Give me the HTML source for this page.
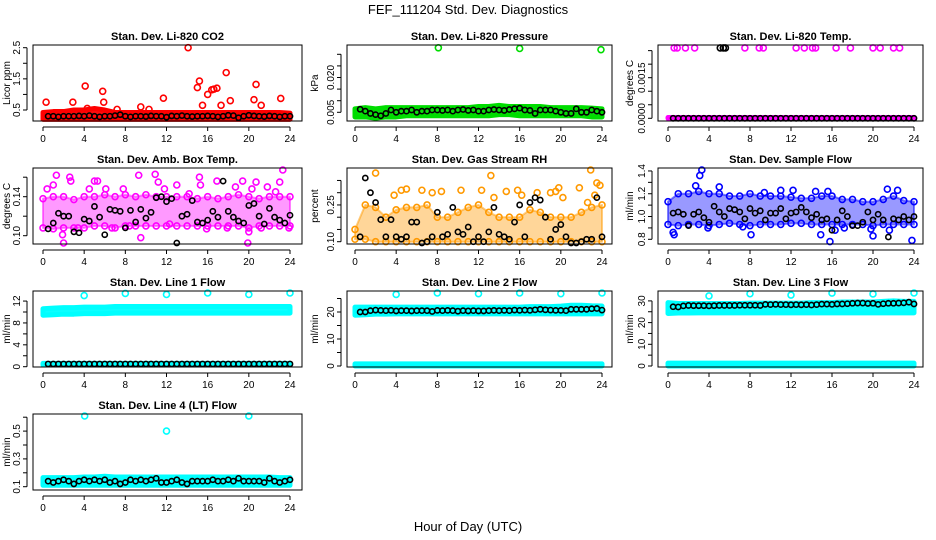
<!DOCTYPE html>
<html><head><meta charset="utf-8"><style>
body{margin:0;background:#fff}
svg{display:block;font-family:"Liberation Sans",sans-serif}
</style></head><body>
<svg id="chart" width="936" height="540" viewBox="0 0 936 540">
<text x="468" y="14" text-anchor="middle" font-size="13">FEF_111204  Std. Dev. Diagnostics</text>
<text x="468" y="531" text-anchor="middle" font-size="13">Hour of Day (UTC)</text>
</svg>
<script>
// ---- data (hourly band lo/hi = 25 values at hours 0..24; black = 48 values at 0.5..24) ----
const xTicks = [0,4,8,12,16,20,24];
const co2BandLo = [0.2,0.2,0.2,0.2,0.2,0.2,0.2,0.2,0.2,0.2,0.2,0.2,0.2,0.2,0.2,0.2,0.2,0.2,0.2,0.2,0.2,0.2,0.2,0.2,0.2];
const co2BandHi = [0.42,0.45,0.45,0.5,0.5,0.55,0.5,0.42,0.42,0.42,0.42,0.42,0.42,0.42,0.42,0.42,0.42,0.42,0.42,0.42,0.42,0.42,0.42,0.42,0.4];
const co2OutX = [0.3,2.9,4.1,5.8,5.9,9.5,11.7,14.1,15.0,15.2,15.5,16.0,16.4,16.6,16.9,17.3,17.8,18.2,20.5,20.7,21.2,23.1,4.3,7.2,10.3];
const co2OutY = [0.75,0.75,1.27,1.1,0.75,0.6,0.88,2.5,1.22,1.43,0.65,1.0,1.15,1.17,1.2,0.65,1.7,0.8,0.83,1.32,0.65,0.87,0.55,0.52,0.52];
const co2Black = [0.3,0.3,0.28,0.3,0.3,0.3,0.31,0.3,0.32,0.3,0.28,0.3,0.3,0.32,0.35,0.3,0.28,0.3,0.3,0.29,0.31,0.3,0.3,0.27,0.31,0.3,0.32,0.3,0.29,0.3,0.3,0.31,0.3,0.28,0.3,0.33,0.32,0.25,0.3,0.33,0.31,0.3,0.29,0.31,0.3,0.28,0.3,0.3];

const presBandLo = [0.003,0.003,0.0025,0.003,0.003,0.0035,0.0035,0.0035,0.0035,0.0035,0.0035,0.0035,0.0035,0.0035,0.004,0.004,0.0035,0.0035,0.0035,0.0035,0.0035,0.0035,0.0035,0.003,0.003];
const presBandHi = [0.0065,0.007,0.0065,0.007,0.007,0.007,0.007,0.007,0.007,0.007,0.007,0.007,0.0075,0.0075,0.008,0.0075,0.0075,0.0075,0.0075,0.007,0.007,0.007,0.007,0.0068,0.0065];
const presOutX = [8.1,16.0,23.9];
const presOutY = [0.0328,0.0325,0.032];
const presBlack = [0.0063,0.0055,0.0045,0.004,0.0035,0.0045,0.006,0.005,0.0055,0.0055,0.006,0.005,0.0055,0.0055,0.006,0.006,0.0058,0.006,0.0055,0.006,0.0062,0.0058,0.006,0.0055,0.0055,0.006,0.0062,0.006,0.0058,0.0062,0.0065,0.0068,0.006,0.0058,0.0045,0.006,0.006,0.006,0.0055,0.005,0.0045,0.0045,0.0065,0.005,0.005,0.006,0.0055,0.005];

const tempBandLo = Array(25).fill(0);
const tempBandHi = [0.00003,0.00003,0.00003,0.00003,0.00003,0.00003,0.00003,0.00003,0.00003,0.00003,0.00003,0.00003,0.00003,0.00003,0.00003,0.00003,0.00003,0.00003,0.00003,0.00003,0.00003,0.00003,0.00003,0.00003,0.00003];
const tempOutX = [0.6,0.9,1.7,2.6,7.5,8.9,9.3,12.5,13.3,14.1,14.4,16.4,17.8,20.0,20.7,22.0,22.6];
const tempOutY = [0.0026,0.0026,0.0026,0.0026,0.0026,0.0026,0.0026,0.0026,0.0026,0.0026,0.0026,0.0026,0.0026,0.0026,0.0026,0.0026,0.0026];
const tempBlackOutX = [5.1,5.4,5.6];
const tempBlackOutY = [0.0026,0.0026,0.0026];
const tempBlack = Array(48).fill(0);

const ambBandLo = [0.108,0.107,0.108,0.108,0.108,0.11,0.11,0.108,0.11,0.11,0.11,0.11,0.11,0.11,0.11,0.11,0.11,0.11,0.11,0.11,0.108,0.11,0.11,0.11,0.11];
const ambBandHi = [0.138,0.14,0.14,0.137,0.14,0.14,0.142,0.14,0.142,0.14,0.142,0.14,0.14,0.14,0.14,0.138,0.14,0.138,0.14,0.142,0.14,0.138,0.14,0.14,0.14];
const ambOutX = [0.4,1.0,1.3,1.9,2.6,2.7,3.4,4.5,5.0,5.3,6.1,6.7,7.8,9.3,9.5,10.9,11.2,11.8,13.0,14.2,15.2,15.9,16.9,17.9,18.7,19.4,19.9,20.3,20.7,21.2,21.8,22.6,23.0,23.3,23.9,2.0,8.4,12.3,15.3,20.0];
const ambOutY = [0.148,0.152,0.162,0.101,0.16,0.156,0.108,0.148,0.156,0.156,0.148,0.108,0.148,0.162,0.098,0.163,0.155,0.148,0.152,0.143,0.16,0.107,0.156,0.108,0.15,0.156,0.092,0.148,0.155,0.108,0.15,0.145,0.155,0.168,0.108,0.092,0.11,0.112,0.152,0.104];
const ambBlack = [0.107,0.113,0.123,0.12,0.12,0.104,0.103,0.117,0.115,0.13,0.119,0.101,0.127,0.126,0.125,0.108,0.126,0.114,0.127,0.118,0.124,0.139,0.14,0.135,0.138,0.092,0.12,0.122,0.136,0.114,0.113,0.116,0.125,0.119,0.156,0.125,0.119,0.115,0.113,0.131,0.133,0.12,0.112,0.128,0.119,0.116,0.113,0.121];

const rhBandLo = [0.11,0.11,0.1,0.1,0.1,0.1,0.1,0.1,0.1,0.1,0.1,0.1,0.1,0.1,0.1,0.1,0.1,0.1,0.1,0.1,0.1,0.1,0.1,0.1,0.1];
const rhBandHi = [0.15,0.25,0.24,0.2,0.23,0.24,0.24,0.25,0.2,0.2,0.22,0.24,0.25,0.22,0.2,0.2,0.2,0.23,0.22,0.2,0.2,0.2,0.22,0.24,0.25];
const rhOutX = [2.0,3.8,4.5,5.0,6.5,7.5,8.4,10.3,12.3,13.2,13.5,14.7,15.8,16.2,17.7,19.0,19.5,19.8,20.2,21.8,22.6,22.9,23.3,23.5,23.8];
const rhOutY = [0.38,0.29,0.31,0.315,0.31,0.3,0.305,0.31,0.31,0.37,0.28,0.305,0.31,0.29,0.3,0.3,0.305,0.32,0.28,0.32,0.26,0.43,0.29,0.34,0.33];
const rhBlack = [0.12,0.36,0.3,0.26,0.19,0.12,0.19,0.12,0.11,0.12,0.18,0.18,0.09,0.1,0.12,0.22,0.12,0.13,0.24,0.14,0.13,0.16,0.1,0.12,0.1,0.14,0.24,0.13,0.12,0.11,0.18,0.25,0.12,0.26,0.28,0.27,0.2,0.11,0.15,0.17,0.12,0.09,0.09,0.1,0.11,0.11,0.28,0.12];

const sfBandLo = [0.93,0.92,0.93,0.93,0.92,0.93,0.94,0.93,0.92,0.93,0.93,0.93,0.94,0.94,0.93,0.93,0.93,0.93,0.93,0.93,0.92,0.93,0.93,0.93,0.93];
const sfBandHi = [1.13,1.2,1.2,1.22,1.2,1.2,1.18,1.18,1.2,1.18,1.18,1.18,1.17,1.16,1.16,1.18,1.18,1.15,1.15,1.13,1.13,1.15,1.18,1.14,1.13];
const sfOutX = [0.5,0.6,3.1,3.3,3.9,5.0,7.3,8.1,9.4,11.0,12.2,14.4,14.9,15.6,15.8,16.3,17.2,19.8,20.0,21.4,21.6,22.4,23.8,2.7];
const sfOutY = [0.86,0.84,1.36,1.44,0.9,1.26,0.91,0.84,1.21,1.23,1.23,1.22,0.84,1.22,0.78,0.88,0.9,0.89,0.83,1.24,0.88,1.23,0.79,1.27];
const sfBlack = [1.03,1.04,1.02,0.92,1.02,1.04,0.99,0.95,1.09,1.04,1.0,1.07,1.06,1.04,0.98,1.07,1.03,1.05,0.97,1.03,1.03,1.07,0.98,1.03,1.04,1.08,1.04,0.99,1.02,0.97,0.98,0.88,0.97,1.05,1.0,0.92,0.92,0.95,1.04,0.97,1.02,0.97,0.82,0.98,0.97,1.0,0.97,1.0];

const l1BandLo = [9.4,9.5,9.6,9.6,9.7,9.7,9.7,9.8,9.8,9.8,9.8,9.8,9.8,9.8,9.8,9.8,9.8,9.8,9.8,9.8,9.8,9.8,9.8,9.8,9.8];
const l1BandHi = [10.6,10.7,10.8,10.8,10.9,10.9,10.9,11.0,11.0,11.0,11.0,11.0,11.0,11.0,11.0,11.0,11.0,11.0,11.0,11.0,11.0,11.0,11.0,11.0,11.0];
const l1LowLo = Array(25).fill(0.3);
const l1LowHi = Array(25).fill(0.6);
const l1OutX = [4,8,12,16,20,24];
const l1OutY = [13.0,13.4,13.2,13.5,13.2,13.5];
const l1Black = Array(48).fill(0.5);

const l2BandLo = [18.8,19.0,19.2,19.2,19.3,19.3,19.3,19.3,19.3,19.3,19.3,19.3,19.3,19.3,19.3,19.3,19.3,19.3,19.3,19.3,19.3,19.3,19.3,19.3,19.3];
const l2BandHi = [21.8,21.8,21.8,21.8,21.8,21.8,21.8,21.8,21.8,21.8,21.8,21.8,21.8,21.8,21.8,21.8,21.8,22.0,22.0,22.0,22.2,22.5,22.5,22.3,22.2];
const l2LowLo = Array(25).fill(0);
const l2LowHi = Array(25).fill(0.8);
const l2OutX = [4,8,12,16,20,24];
const l2OutY = [26.5,27.5,26.8,27.3,26.8,27.3];
const l2Black = [20.0,20.0,20.5,20.7,20.6,20.5,20.6,20.4,20.5,20.5,20.4,20.5,20.5,20.5,20.2,20.6,20.5,20.6,20.5,20.3,20.5,20.4,20.5,20.4,20.4,20.5,20.6,20.5,20.6,20.5,20.7,20.6,20.7,20.6,20.8,21.0,20.8,20.7,20.6,20.6,20.5,21.0,21.0,21.0,21.0,21.2,21.3,20.7];

const l3BandLo = [24.2,24.4,24.4,24.5,24.5,24.5,24.5,24.5,24.5,24.5,24.5,24.5,24.5,24.5,24.5,24.5,24.5,24.5,24.5,24.5,24.5,24.5,24.5,24.5,24.5];
const l3BandHi = [29.2,28.8,28.8,28.8,28.8,28.8,28.8,28.8,29.0,29.0,29.0,29.0,29.0,29.0,29.2,29.2,29.2,29.5,29.5,29.5,29.5,29.8,30.0,29.8,29.8];
const l3LowLo = Array(25).fill(0);
const l3LowHi = Array(25).fill(1.3);
const l3OutX = [4,8,12,16,20,24];
const l3OutY = [32.3,33.3,32.7,33.6,33.2,34.2];
const l3Black = [27.3,27.2,27.7,27.9,27.8,27.8,27.8,27.7,27.8,27.9,27.9,27.9,27.9,28.0,28.0,28.0,28.0,27.9,28.4,28.3,28.4,28.3,28.3,28.2,28.3,28.2,28.3,28.1,28.3,28.5,28.5,28.4,28.6,28.6,28.7,28.9,29.0,29.0,28.8,28.9,28.4,28.7,28.9,28.9,29.0,29.1,29.4,28.6];

const l4BandLo = [0.11,0.11,0.11,0.11,0.11,0.11,0.11,0.11,0.11,0.11,0.11,0.11,0.11,0.11,0.11,0.11,0.11,0.11,0.11,0.11,0.11,0.11,0.11,0.11,0.11];
const l4BandHi = [0.165,0.165,0.165,0.165,0.17,0.17,0.175,0.17,0.17,0.17,0.17,0.17,0.17,0.17,0.17,0.17,0.17,0.17,0.17,0.17,0.17,0.17,0.17,0.165,0.165];
const l4OutX = [4.05,12.0,20.0];
const l4OutY = [0.62,0.50,0.61];
const l4Black = [0.14,0.13,0.14,0.15,0.14,0.12,0.14,0.15,0.14,0.15,0.14,0.15,0.13,0.14,0.12,0.13,0.15,0.14,0.15,0.14,0.15,0.16,0.13,0.13,0.14,0.15,0.13,0.12,0.14,0.14,0.14,0.14,0.15,0.14,0.14,0.15,0.14,0.16,0.14,0.14,0.14,0.14,0.13,0.16,0.14,0.13,0.14,0.15];

// ---- layout ----
const cols = [{l:33,r:302,x0:43,x24:290,lab:10},{l:347,r:612,x0:355,x24:602,lab:318},{l:658,r:923,x0:668,x24:914,lab:633}];
const rows = [{t:45,b:121,title:36},{t:168,b:244,title:159},{t:291,b:367,title:282},{t:414,b:490,title:405}];
const panels = [
 {name:'co2',title:'Stan. Dev. Li-820 CO2',c:0,r:0,ylab:'Licor ppm',color:'#ff0000',refV:0.5,refPx:110,pxPerUnit:31.15,ticks:[0.5,1,1.5,2,2.5],labels:[['0.5',0.5],['1.5',1.5],['2.5',2.5]],bands:[[co2BandLo,co2BandHi]],out:[[co2OutX,co2OutY,'#ff0000']],black:co2Black},
 {name:'pressure',title:'Stan. Dev. Li-820 Pressure',c:1,r:0,ylab:'kPa',color:'#00dd00',refV:0.005,refPx:112.3,pxPerUnit:2320,ticks:[0.005,0.01,0.015,0.02,0.025,0.03],labels:[['0.005',0.005],['0.020',0.02]],bands:[[presBandLo,presBandHi]],out:[[presOutX,presOutY,'#00dd00']],black:presBlack},
 {name:'temp',title:'Stan. Dev. Li-820 Temp.',c:2,r:0,ylab:'degrees C',color:'#ff00ff',refV:0,refPx:118.3,pxPerUnit:27067,ticks:[0,0.0005,0.001,0.0015,0.002,0.0025],labels:[['0.0000',0],['0.0015',0.0015]],bands:[[tempBandLo,tempBandHi]],out:[[tempOutX,tempOutY,'#ff00ff'],[tempBlackOutX,tempBlackOutY,'#000']],black:tempBlack},
 {name:'amb-box-temp',title:'Stan. Dev. Amb. Box Temp.',c:0,r:1,ylab:'degrees C',color:'#ff00ff',refV:0.10,refPx:235.7,pxPerUnit:975,ticks:[0.1,0.12,0.14,0.16],labels:[['0.10',0.1],['0.14',0.14]],bands:[[ambBandLo,ambBandHi]],out:[[ambOutX,ambOutY,'#ff00ff']],black:ambBlack,open:true},
 {name:'gas-stream-rh',title:'Stan. Dev. Gas Stream RH',c:1,r:1,ylab:'percent',color:'#ff9900',refV:0.10,refPx:241.7,pxPerUnit:245,ticks:[0.1,0.15,0.2,0.25,0.3,0.35],labels:[['0.10',0.1],['0.25',0.25]],bands:[[rhBandLo,rhBandHi]],out:[[rhOutX,rhOutY,'#ff9900']],black:rhBlack,open:true},
 {name:'sample-flow',title:'Stan. Dev. Sample Flow',c:2,r:1,ylab:'ml/min',color:'#0000ff',refV:0.8,refPx:239.3,pxPerUnit:113.9,ticks:[0.8,0.9,1.0,1.1,1.2,1.3,1.4],labels:[['0.8',0.8],['1.0',1.0],['1.2',1.2],['1.4',1.4]],bands:[[sfBandLo,sfBandHi]],out:[[sfOutX,sfOutY,'#0000ff']],black:sfBlack,open:true},
 {name:'line1-flow',title:'Stan. Dev. Line 1 Flow',c:0,r:2,ylab:'ml/min',color:'#00ffff',refV:0,refPx:366.7,pxPerUnit:5.47,ticks:[0,2,4,6,8,10,12],labels:[['0',0],['4',4],['8',8],['12',12]],bands:[[l1BandLo,l1BandHi],[l1LowLo,l1LowHi]],out:[[l1OutX,l1OutY,'#00ffff']],black:l1Black},
 {name:'line2-flow',title:'Stan. Dev. Line 2 Flow',c:1,r:2,ylab:'ml/min',color:'#00ffff',refV:0,refPx:366,pxPerUnit:2.7,ticks:[0,5,10,15,20,25],labels:[['0',0],['10',10],['20',20]],bands:[[l2BandLo,l2BandHi],[l2LowLo,l2LowHi]],out:[[l2OutX,l2OutY,'#00ffff']],black:l2Black},
 {name:'line3-flow',title:'Stan. Dev. Line 3 Flow',c:2,r:2,ylab:'ml/min',color:'#00ffff',refV:0,refPx:366,pxPerUnit:2.17,ticks:[0,5,10,15,20,25,30],labels:[['0',0],['10',10],['20',20],['30',30]],bands:[[l3BandLo,l3BandHi],[l3LowLo,l3LowHi]],out:[[l3OutX,l3OutY,'#00ffff']],black:l3Black},
 {name:'line4-flow',title:'Stan. Dev. Line 4 (LT) Flow',c:0,r:3,ylab:'ml/min',color:'#00ffff',refV:0.1,refPx:486.7,pxPerUnit:139,ticks:[0.1,0.2,0.3,0.4,0.5,0.6],labels:[['0.1',0.1],['0.3',0.3],['0.5',0.5]],bands:[[l4BandLo,l4BandHi]],out:[[l4OutX,l4OutY,'#00ffff']],black:l4Black}
];
const svg = document.getElementById('chart');
const NS = 'http://www.w3.org/2000/svg';
function mk(tag, attrs, parent){const e=document.createElementNS(NS,tag);for(const k in attrs)e.setAttribute(k,attrs[k]);(parent||svg).appendChild(e);return e;}

panels.forEach(p=>{
  const C=cols[p.c], R=rows[p.r];
  const g=mk('g',{});
  
  
  const xs=h=>C.x0+(C.x24-C.x0)*h/24;
  const ys=v=>Math.max(R.t+2,Math.min(R.b-1,p.refPx-(v-p.refV)*p.pxPerUnit));
  const ysRaw=v=>p.refPx-(v-p.refV)*p.pxPerUnit;
  const t=mk('text',{x:(C.l+C.r)/2,y:R.title+4,'text-anchor':'middle','font-size':'11','font-weight':'bold'},g);
  t.textContent=p.title;
  
  
  p.bands.forEach(([lo,hi])=>{
    let pts=[];
    lo.forEach((v,i)=>pts.push(xs(i)+','+ys(v)));
    for(let i=hi.length-1;i>=0;i--)pts.push(xs(i)+','+ys(hi[i]));
    const poly=mk('polygon',{points:pts.join(' '),fill:p.color,stroke:p.color,'stroke-width':p.open?2:5,'stroke-linejoin':'round','fill-opacity':p.open?0.4:0.95,'stroke-opacity':p.open?0.5:1},g);
    
    
    if(p.open){
      for(let i=0;i<lo.length;i++){
        [lo[i],hi[i]].forEach(v=>{
          const c=mk('circle',{cx:xs(i),cy:ys(v),r:3,fill:'none',stroke:p.color,'stroke-width':1.6},g);
          
          
        });
      }
    }
  });
  p.out.forEach(([X,Y,col])=>{
    X.forEach((x,i)=>{
      const c=mk('circle',{cx:xs(x),cy:ys(Y[i]),r:3,fill:'none',stroke:col,'stroke-width':1.6},g);
      
      
    });
  });
  p.black.forEach((v,i)=>{
    const c=mk('circle',{cx:xs(0.5+i*0.5),cy:ys(v),r:2.6,fill:'none',stroke:'#000','stroke-width':1.6},g);
    
    
  });
  const b=mk('rect',{x:C.l,y:R.t,width:C.r-C.l,height:R.b-R.t,fill:'none',stroke:'#000','stroke-width':1},g);
  
  
  mk('line',{x1:xs(0),x2:xs(24),y1:R.b+6,y2:R.b+6,stroke:'#000'},g);
  xTicks.forEach(h=>{
    mk('line',{x1:xs(h),x2:xs(h),y1:R.b+6,y2:R.b+10,stroke:'#000'},g);
    const tx=mk('text',{x:xs(h),y:R.b+21,'text-anchor':'middle','font-size':'10'},g);
    tx.textContent=h;
    
    
  });
  const yTop=ysRaw(p.ticks[p.ticks.length-1]), yBot=ysRaw(p.ticks[0]);
  mk('line',{x1:C.l-6,x2:C.l-6,y1:yTop,y2:yBot,stroke:'#000'},g);
  p.ticks.forEach(v=>mk('line',{x1:C.l-10,x2:C.l-6,y1:ysRaw(v),y2:ysRaw(v),stroke:'#000'},g));
  p.labels.forEach(([s,v])=>{
    const x=C.l-13,y=ysRaw(v);
    const tx=mk('text',{x:x,y:y,'text-anchor':'middle','font-size':'10',transform:`rotate(-90 ${x} ${y})`},g);
    tx.textContent=s;
    
    
  });
  const ly=(R.t+R.b)/2;
  const yl=mk('text',{x:C.lab,y:ly,'text-anchor':'middle','font-size':'10',transform:`rotate(-90 ${C.lab} ${ly})`},g);
  yl.textContent=p.ylab;
  
  
});
</script>
</body></html>
